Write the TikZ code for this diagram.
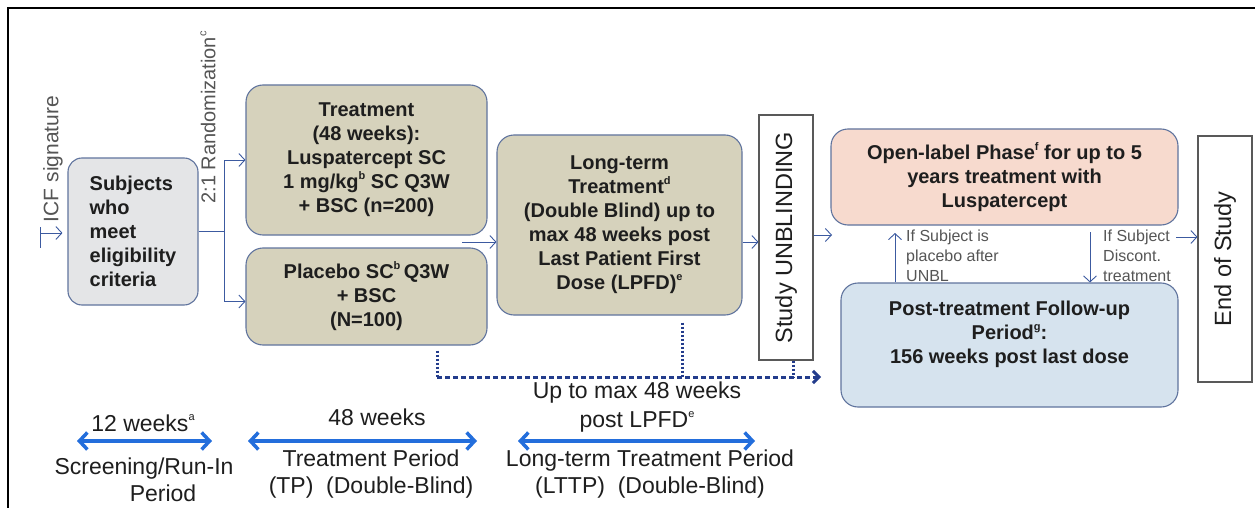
\documentclass[tikz,border=0pt]{standalone}
\usepackage{fontspec}
\setmainfont{Liberation Sans}
\usetikzlibrary{arrows.meta,calc}
\definecolor{bordercol}{RGB}{96,116,158}
\definecolor{khaki}{RGB}{214,210,188}
\definecolor{subjfill}{RGB}{228,229,231}
\definecolor{openfill}{RGB}{247,218,206}
\definecolor{postfill}{RGB}{214,227,238}
\definecolor{conncol}{RGB}{60,90,160}
\definecolor{brightblue}{RGB}{35,110,220}
\definecolor{dashcol}{RGB}{35,60,140}
\definecolor{graytext}{RGB}{85,85,85}
\definecolor{textcol}{RGB}{30,30,30}
\newcommand{\supx}[1]{\raisebox{0.45em}{\fontsize{11}{11}\selectfont #1}}
\begin{document}
\begin{tikzpicture}[x=1pt,y=-1pt,
 box/.style={draw=bordercol, line width=1.1pt, rounded corners=17pt, align=center, inner sep=0pt, text=textcol, font=\bfseries\fontsize{20}{24}\selectfont},
 plainbox/.style={draw=black!65, line width=1.1pt, fill=white, inner sep=0pt, text=textcol, font=\fontsize{23.5}{28}\selectfont},
 conn/.style={draw=conncol, line width=0.9pt, -{Straight Barb[length=6pt,width=13pt]}},
 bar/.style={draw=conncol, line width=0.9pt},
 period/.style={draw=brightblue, line width=3.5pt, {Straight Barb[length=8pt,width=17pt]}-{Straight Barb[length=8pt,width=17pt]}},
 dashline/.style={draw=dashcol, line width=3pt, dash pattern=on 5pt off 3pt},
 dotline/.style={draw=dashcol, line width=3pt, dash pattern=on 2pt off 2pt},
 small/.style={text=graytext, align=left, font=\fontsize{16}{20}\selectfont, inner sep=0pt},
 bottomtext/.style={align=center, text=textcol, font=\fontsize{23}{27}\selectfont, inner sep=0pt},
 vlabel/.style={rotate=90, inner sep=0pt, text=graytext}
]
\useasboundingbox[fill=white] (0,0) rectangle (1255,508);

% outer frame
\coordinate (fbl) at (8,508);
\coordinate (ftl) at (8,8);
\coordinate (ftr) at (1255,8);
\draw[black, line width=2pt] (fbl) -- (ftl) -- (ftr);

% boxes
\node[box, fill=subjfill, align=left, minimum width=130pt, minimum height=147pt, rounded corners=14pt] (subj) at (133,231.5)
  {Subjects\\who\\meet\\eligibility\\criteria};
\node[box, fill=khaki, minimum width=241pt, minimum height=150pt] (treat) at (366.5,160)
  {Treatment\\(48 weeks):\\Luspatercept SC\\1 mg/kg\supx{b} SC Q3W\\+ BSC (n=200)};
\node[box, fill=khaki, minimum width=241pt, minimum height=97pt] (plac) at (366.5,296.5)
  {Placebo SC\supx{b}\,Q3W\\+ BSC\\(N=100)};
\node[box, fill=khaki, minimum width=245pt, minimum height=180pt] (lt) at (619.5,225)
  {Long-term\\Treatment\supx{d}\\(Double Blind) up to\\max 48 weeks post\\Last Patient First\\Dose (LPFD)\supx{e}};
\node[plainbox, rotate=90, minimum width=245pt, minimum height=54pt] (unbl) at (786,237.5) {Study UNBLINDING};
\node[box, fill=openfill, minimum width=347pt, minimum height=96pt] (open) at (1004.5,177)
  {Open-label Phase\supx{f} for up to 5\\years treatment with\\Luspatercept};
\node[box, fill=postfill, minimum width=337pt, minimum height=124pt] (post) at (1009.5,345) {};
\node[align=center, inner sep=0pt, text=textcol, font=\bfseries\fontsize{20}{24}\selectfont] (posttxt) at (1009.5,334)
  {Post-treatment Follow-up\\Period\supx{g}:\\156 weeks post last dose};
\node[plainbox, rotate=90, minimum width=246pt, minimum height=54pt] (eos) at (1225,259) {End of Study};

% rotated labels
\node[vlabel, font=\fontsize{21}{25}\selectfont] (icf) at (53,159) {ICF signature};
\node[vlabel, font=\fontsize{20}{24}\selectfont] (rand) at (208,117.5) {2:1 Randomization\supx{c}};

% ICF arrow
\coordinate (icftop) at (40,227);
\coordinate (icfbot) at (40,248);
\coordinate (icfbar) at (40,233);
\draw[bar] (icftop) -- (icfbot);
\draw[conn, shorten >=5pt] (icfbar) -- (icfbar -| subj.west);

% randomization split
\draw[conn] (subj.east) -- ++(26,0) |- (treat.west);
\draw[conn] (subj.east) -- ++(26,0) |- ([yshift=-5pt]plac.west);

% into long-term
\coordinate (mid) at (462,242);
\draw[conn] (mid) -- (mid -| lt.west);
\draw[conn] ([yshift=-17pt]lt.east) -- ([yshift=-17pt]lt.east -| unbl.north);
\coordinate (gapin) at (832,235);
\draw[conn] (gapin -| unbl.south) -- (gapin);

% between open-label and post
\coordinate (uptip) at (895,233);
\draw[conn] (uptip |- post.north) -- (uptip);
\coordinate (downtail) at (1090,232);
\draw[conn] (downtail) -- (downtail |- post.north);
\coordinate (endtail) at (1176,237);
\draw[conn] (endtail) -- (endtail -| eos.north);
\node[small, anchor=north west] (lblA) at (906,230) {If Subject is\\placebo after\\UNBL};
\node[small, anchor=north west] (lblB) at (1103,230) {If Subject\\Discont.\\treatment};

% dashed path to follow-up
\coordinate (dA) at ([xshift=70.5pt,yshift=-5pt]plac.south);
\coordinate (dB) at (dA |- 0,377);
\coordinate (dEnd) at (821,377);
\coordinate (dC) at ([xshift=62.5pt,yshift=-7pt]lt.south);
\coordinate (dD) at ([xshift=7pt]unbl.west);
\draw[dotline] (dA) -- (dB);
\draw[dotline] (dC) -- (dC |- dB);
\draw[dotline] (dD) -- (dD |- dB);
\draw[dashline, -{Straight Barb[length=6pt,width=12pt]}] (dB) -- (dEnd);

% bottom timeline
\coordinate (a1l) at (77,441);
\coordinate (a1r) at (212,441);
\coordinate (a2l) at (248,441);
\coordinate (a2r) at (477,441);
\coordinate (a3l) at (518,441);
\coordinate (a3r) at (755,441);
\draw[period] (a1l) -- (a1r);
\draw[period] (a2l) -- (a2r);
\draw[period] (a3l) -- (a3r);

\node[bottomtext] (w12) at (143,423) {12 weeks\supx{a}};
\node[bottomtext] (scr) at (144,480) {Screening/Run-In\\\hspace*{38pt}Period};
\node[bottomtext] (w48) at (377,417) {48 weeks};
\node[bottomtext] (tp) at (371,474) {Treatment Period\\(TP)\ \ (Double-Blind)};
\node[bottomtext, font=\fontsize{23}{29}\selectfont] (upto) at (637,407) {Up to max 48 weeks\\post LPFD\supx{e}};
\node[bottomtext] (lttp) at (650,474) {Long-term Treatment Period\\(LTTP)\ \ (Double-Blind)};
\end{tikzpicture}
\end{document}
